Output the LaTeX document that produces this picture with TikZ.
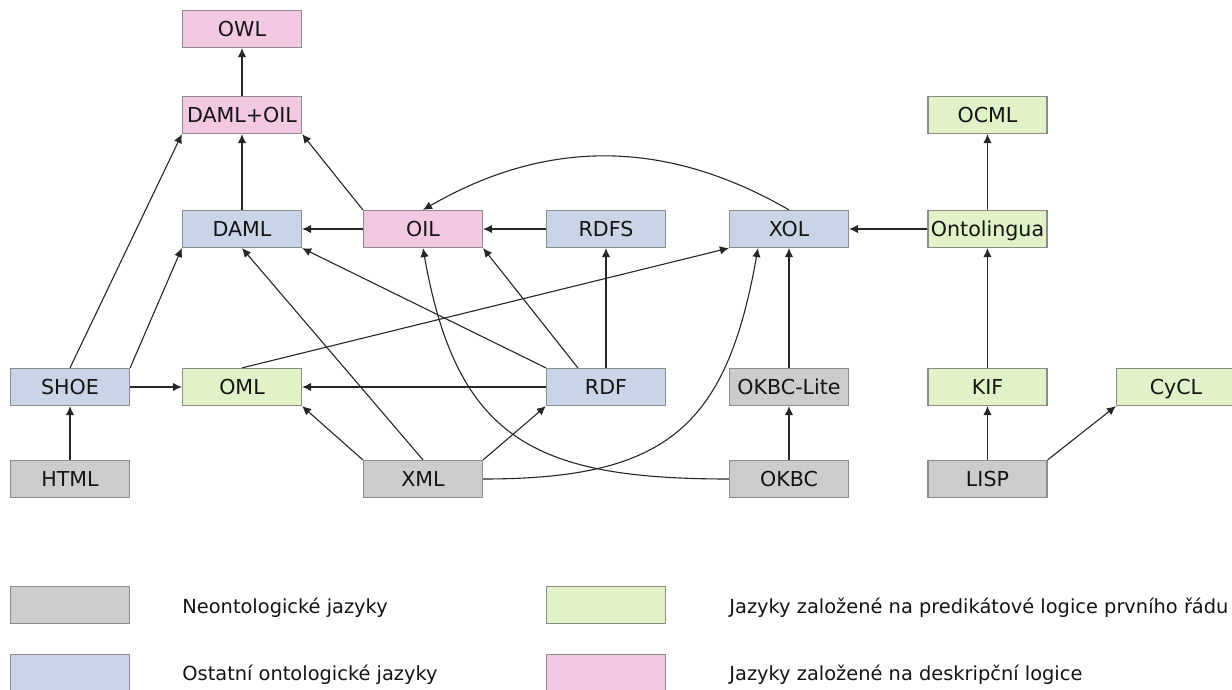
\documentclass[tikz,border=0pt]{standalone}
\usepackage{fontspec}
\setmainfont{DejaVu Sans}
\usetikzlibrary{arrows.meta,calc}
\definecolor{boxline}{RGB}{140,140,140}
\definecolor{neogray}{RGB}{204,204,204}
\definecolor{otherblue}{RGB}{201,213,230}
\definecolor{folgreen}{RGB}{226,242,200}
\definecolor{descpink}{RGB}{243,200,226}
\begin{document}
\begin{tikzpicture}[x=0.5pt,y=0.5pt,
  lang/.style={draw=boxline, line width=0.6pt, minimum width=59.5pt,
    minimum height=18.5pt, inner sep=0pt, text height=7.3pt, text depth=0pt,
    font=\fontsize{10.3}{12}\selectfont, text=black!92},
  neo/.style={lang, fill=neogray},
  other/.style={lang, fill=otherblue},
  fol/.style={lang, fill=folgreen},
  desc/.style={lang, fill=descpink},
  arr/.style={-{Latex[length=4.5pt,width=4.2pt]}, line width=0.55pt, draw=black!85},
  legendtext/.style={anchor=base west, inner sep=0pt,
    font=\fontsize{9.7}{12}\selectfont, text=black!92}]

\useasboundingbox (0,0) rectangle (1232,-690);
\fill[white] (0,0) rectangle (1232,-690);
\clip (0,0) rectangle (1232,-690);

% language boxes
\node[desc]  (OWL)      at (242,-29)    {OWL};
\node[desc]  (DAMLOIL)  at (242,-115)   {DAML+OIL};
\node[other] (DAML)     at (242,-229)   {DAML};
\node[desc]  (OIL)      at (423,-229)   {OIL};
\node[other] (RDFS)     at (606,-229)   {RDFS};
\node[other] (XOL)      at (789,-229)   {XOL};
\node[fol]   (Onto)     at (987.5,-229) {Ontolingua};
\node[fol]   (OCML)     at (987.5,-115) {OCML};
\node[other] (SHOE)     at (70,-387)    {SHOE};
\node[fol]   (OML)      at (242,-387)   {OML};
\node[other] (RDF)      at (606,-387)   {RDF};
\node[neo]   (OKBCLite) at (789,-387)   {OKBC-Lite};
\node[fol]   (KIF)      at (987.5,-387) {KIF};
\node[fol]   (CyCL)     at (1176,-387)  {CyCL};
\node[neo]   (HTML)     at (70,-479)    {HTML};
\node[neo]   (XML)      at (423,-479)   {XML};
\node[neo]   (OKBC)     at (789,-479)   {OKBC};
\node[neo]   (LISP)     at (987.5,-479) {LISP};

% derivation arrows
\draw[arr] (DAMLOIL) -- (OWL);
\draw[arr] (DAML) -- (DAMLOIL);
\draw[arr] (OIL.north west) -- (DAMLOIL.south east);
\draw[arr] (OIL) -- (DAML);
\draw[arr] (RDFS) -- (OIL);
\draw[arr] (XOL.north) to[bend right=30] (OIL.north);
\draw[arr] (Onto) -- (XOL);
\draw[arr] (Onto) -- (OCML);
\draw[arr] (KIF) -- (Onto);
\draw[arr] (LISP) -- (KIF);
\draw[arr] (LISP.north east) -- (CyCL.south west);
\draw[arr] (OKBC) -- (OKBCLite);
\draw[arr] (OKBCLite) -- (XOL);
\draw[arr] (OKBC.west) to[out=180,in=-80,looseness=1.3] (OIL.south);
\draw[arr] (XML.east) to[out=0,in=-100,looseness=1.3] ($(XOL.south)+(-31,0)$);
\draw[arr] (XML.north west) -- (OML.south east);
\draw[arr] (XML.north east) -- (RDF.south west);
\draw[arr] (XML.north) -- (DAML.south);
\draw[arr] (RDF) -- (RDFS);
\draw[arr] ($(RDF.north west)+(32,0)$) -- (OIL.south east);
\draw[arr] (RDF.north west) -- (DAML.south east);
\draw[arr] (RDF) -- (OML);
\draw[arr] (OML.north) -- (XOL.south west);
\draw[arr] (SHOE) -- (OML);
\draw[arr] (SHOE.north) -- (DAMLOIL.south west);
\draw[arr] (SHOE.north east) -- (DAML.south west);
\draw[arr] (HTML) -- (SHOE);

% legend
\node[neo]   (kNeo)   at (70,-605)  {};
\node[other] (kOther) at (70,-673)  {};
\node[fol]   (kFol)   at (606,-605) {};
\node[desc]  (kDesc)  at (606,-673) {};
\node[legendtext] (tNeo)   at (182,-613) {Neontologické jazyky};
\node[legendtext] (tOther) at (182,-680) {Ostatní ontologické jazyky};
\node[legendtext] (tFol)   at (729,-613) {Jazyky založené na predikátové logice prvního řádu};
\node[legendtext] (tDesc)  at (729,-680) {Jazyky založené na deskripční logice};
\end{tikzpicture}
\end{document}
